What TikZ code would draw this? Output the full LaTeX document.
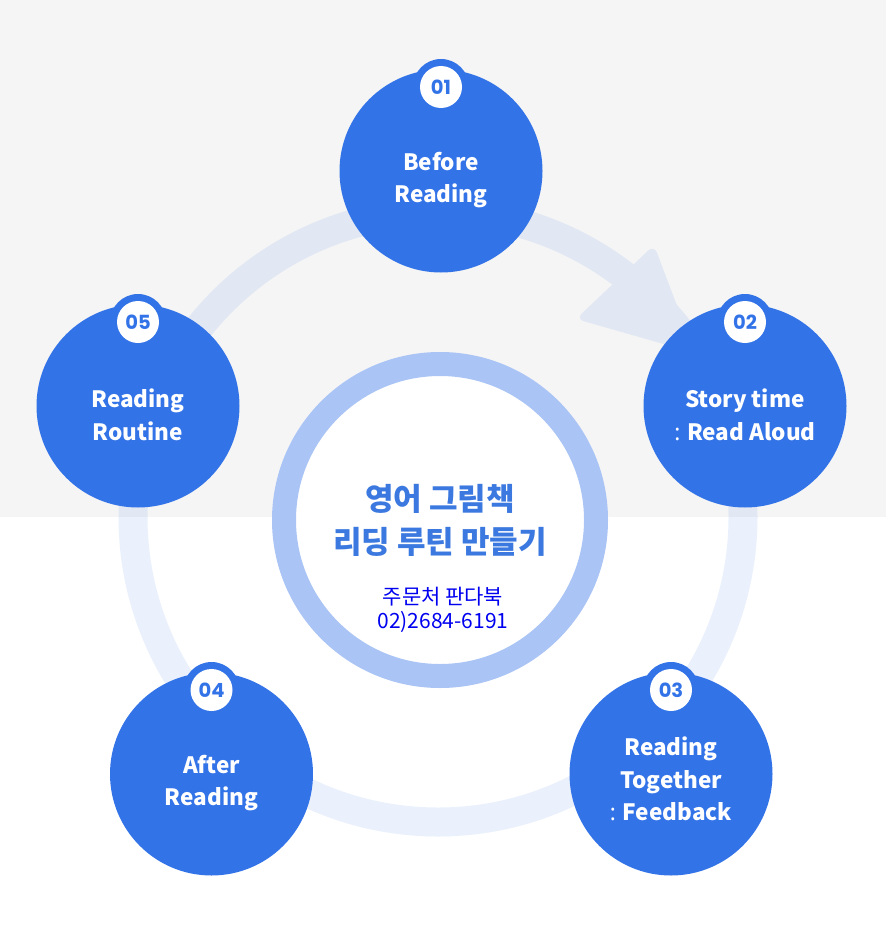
\documentclass[tikz,border=0pt]{standalone}
\usepackage{fontspec}
\newfontfamily\kr{Noto Sans CJK KR}
\newfontfamily\numf{Poppins}
\newfontfamily\lat{Noto Sans}
\definecolor{bg}{HTML}{F5F5F5}
\definecolor{nodeblue}{HTML}{3373E8}
\definecolor{ringgrey}{HTML}{E2E8F3}
\definecolor{ringwhite}{HTML}{EBF1FC}
\definecolor{centerring}{HTML}{AAC4F5}
\definecolor{titleblue}{HTML}{3B78DF}
\definecolor{orderblue}{HTML}{0000F0}
\newcommand{\colonsp}{{\lat :} }
\begin{document}
\begin{tikzpicture}[x=1pt,y=-1pt,
  stepcircle/.style={circle, fill=nodeblue, minimum size=203pt, inner sep=0pt},
  bumpcircle/.style={circle, fill=nodeblue, minimum size=56pt, inner sep=0pt},
  badge/.style={circle, fill=white, minimum size=42pt, inner sep=0pt, text=nodeblue,
    font=\numf\bfseries\fontsize{19.5}{19.5}\selectfont},
  steptext/.style={text=white, align=center, inner sep=0pt,
    font=\kr\bfseries\fontsize{22.5}{32.5}\selectfont},
  ringband/.style={line width=29pt},
]
\useasboundingbox (0,0) rectangle (886,942);
% background
\fill[white] (0,0) rectangle (886,942);
\fill[bg] (0,0) rectangle (886,517);
% pale ring
\begin{scope}
  \clip (0,0) rectangle (886,517);
  \draw[ringgrey, ringband] (438,517) circle[radius=305pt];
\end{scope}
\begin{scope}
  \clip (0,517) rectangle (886,942);
  \draw[ringwhite, ringband] (438,517) circle[radius=305pt];
\end{scope}
% arrowhead on the ring
\fill[ringgrey, rounded corners=8pt] (576,319) -- (654,245) -- (695,353) -- cycle;
% centre circle
\node[circle, draw=centerring, line width=24pt, fill=white, minimum size=312pt, inner sep=0pt] (hub) at (440,520) {};
\node[text=titleblue, align=center, font=\kr\bfseries\fontsize{31}{43}\selectfont] (title) at (440,520) {영어 그림책\\리딩 루틴 만들기};
\node[text=orderblue, align=center, font=\kr\fontsize{21}{24}\selectfont] (order) at (443,610) {주문처 판다북\\02)2684-6191};
% steps
\foreach \n/\x/\y in {1/441/171, 2/745/406, 3/671/774, 4/211.5/774, 5/138/406}{
  \node[bumpcircle] (bump\n) at (\x,\y-84) {};
  \node[stepcircle] (s\n) at (\x,\y) {};
  \node[badge] (b\n) at (\x,\y-84) {0\n};
}
\node[steptext] (t1) at (441,180) {Before\\Reading};
\node[steptext] (t2) at (745,415) {Story time\\\colonsp Read Aloud};
\node[steptext] (t3) at (671,779) {Reading\\Together\\\colonsp Feedback};
\node[steptext] (t4) at (211.5,783) {After\\Reading};
\node[steptext] (t5) at (138,415) {Reading\\Routine};
\end{tikzpicture}
\end{document}
